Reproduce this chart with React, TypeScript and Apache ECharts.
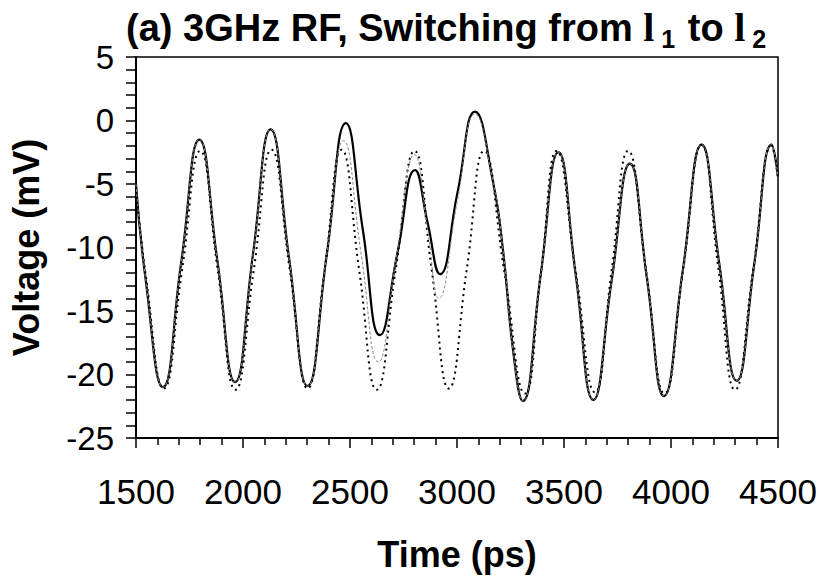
import React, { useEffect, useRef } from "react";
import * as echarts from "echarts";

// Measured trace (solid), time in ps, voltage in mV
const measured: [number, number][] = [
  [1500, -5.0], [1545, -12.5], [1626, -21.0], [1711, -11.2], [1796, -1.5],
  [1880, -11.0], [1963, -20.6], [2046, -10.6], [2129, -0.7], [2215, -10.8],
  [2302, -20.9], [2392, -10.5], [2481, -0.2], [2560, -8.6], [2640, -16.9],
  [2722, -10.4], [2804, -3.9], [2862, -8.0], [2921, -12.1], [3002, -5.7],
  [3084, 0.7], [3169, -4.9], [3215, -10.2], [3262, -18.1], [3307, -22.1],
  [3390, -12.3], [3474, -2.5], [3555, -12.2], [3637, -22.0], [3722, -12.7],
  [3808, -3.4], [3888, -12.5], [3967, -21.7], [4055, -11.8], [4143, -1.9],
  [4225, -11.2], [4307, -20.5], [4390, -11.2], [4470, -1.9], [4500, -4.4],
];

// Reference trace (dotted)
const reference: [number, number][] = [
  [1500, -5.3], [1548, -12.5], [1630, -21.1], [1715, -11.8], [1800, -2.4],
  [1882, -11.8], [1965, -21.2], [2050, -11.8], [2133, -2.3], [2218, -11.7],
  [2302, -21.1], [2382, -11.7], [2461, -2.3], [2543, -11.8], [2625, -21.2],
  [2713, -11.8], [2802, -2.4], [2882, -11.8], [2962, -21.1], [3045, -11.8],
  [3127, -2.4], [3222, -12.0], [3318, -21.5], [3392, -12.0], [3466, -2.4],
  [3555, -11.9], [3645, -21.4], [3722, -11.9], [3800, -2.4], [3885, -12.0],
  [3970, -21.5], [4057, -11.7], [4143, -1.9], [4221, -11.6], [4299, -21.2],
  [4385, -11.6], [4470, -2.0], [4500, -4.6],
];

// Thin grey trace
const grey: [number, number][] = [
  [1500, -5.0], [1545, -12.5], [1626, -21.0], [1711, -11.2], [1796, -1.5],
  [1880, -11.0], [1963, -20.6], [2046, -10.6], [2129, -0.7], [2215, -10.8],
  [2302, -20.9], [2392, -10.5], [2470, -1.6], [2552, -10.5], [2632, -19.0],
  [2716, -10.8], [2802, -2.7], [2862, -8.5], [2915, -14.0], [3000, -6.5],
  [3084, 0.5], [3169, -4.9], [3215, -10.2], [3262, -18.1], [3307, -22.1],
  [3390, -12.3], [3474, -2.5], [3555, -12.2], [3637, -22.0], [3722, -12.7],
  [3808, -3.4], [3888, -12.5], [3967, -21.7], [4055, -11.8], [4143, -1.9],
  [4225, -11.2], [4307, -20.5], [4390, -11.2], [4470, -1.9], [4500, -4.4],
];

const xMin = 1500, xMax = 4500, xStep = 500;
const yMin = -25, yMax = 5, yStep = 5;

const FONT = "'Liberation Sans', Arial, sans-serif";

export default function App() {
  const ref = useRef<HTMLDivElement>(null);
  useEffect(() => {
    if (!ref.current) return;
    const chart = echarts.init(ref.current, undefined, { renderer: "svg" });
    chart.setOption({
      animation: false,
      backgroundColor: "#fff",
      title: {
        text: "{a|(a) 3GHz RF, Switching from }{l|l}{s|1}{a| to }{l|l}{s|2}",
        left: 126,
        top: 4,
        padding: 0,
        textStyle: {
          rich: {
            a: { fontFamily: FONT, fontWeight: "bold", fontSize: 38, color: "#000" },
            l: { fontFamily: "'Liberation Serif', serif", fontWeight: "bold", fontSize: 40, color: "#000" },
            s: { fontFamily: FONT, fontWeight: "bold", fontSize: 25, color: "#000", padding: [22, 2, 0, 7] },
          },
        },
      },
      grid: {
        left: 136, right: 44, top: 57, bottom: 140,
        show: true, borderColor: "#000", borderWidth: 1.5,
      },
      xAxis: {
        type: "value", min: xMin, max: xMax, interval: xStep,
        name: "Time (ps)", nameLocation: "middle", nameGap: 98,
        nameTextStyle: { fontFamily: FONT, fontWeight: "bold", fontSize: 36, color: "#000" },
        axisLine: { show: true, onZero: false, lineStyle: { color: "#000", width: 2 } },
        axisTick: { show: true, inside: false, length: 10, lineStyle: { color: "#000", width: 1.5 } },
        minorTick: { show: true, splitNumber: 5, length: 7, lineStyle: { color: "#000", width: 1.5 } },
        axisLabel: {
          fontFamily: FONT, fontSize: 35, color: "#000", margin: 36,
          formatter: (v: number) => String(v),
        },
        splitLine: { show: false },
      },
      yAxis: {
        type: "value", min: yMin, max: yMax, interval: yStep,
        name: "Voltage (mV)", nameLocation: "middle", nameGap: 92,
        nameTextStyle: { fontFamily: FONT, fontWeight: "bold", fontSize: 36, color: "#000" },
        axisLine: { show: true, onZero: false, lineStyle: { color: "#000", width: 2 } },
        axisTick: { show: true, inside: false, length: 10, lineStyle: { color: "#000", width: 1.5 } },
        minorTick: { show: true, splitNumber: 5, length: 10, lineStyle: { color: "#000", width: 1.5 } },
        axisLabel: {
          fontFamily: FONT, fontSize: 33, color: "#000", margin: 22,
          formatter: (v: number) => String(v),
        },
        splitLine: { show: false },
      },
      series: [
        {
          type: "line", data: measured, smooth: 0.5, symbol: "none",
          lineStyle: { color: "#000", width: 2.2 }, z: 3,
        },
        {
          type: "line", data: reference, smooth: 0.5, symbol: "none",
          lineStyle: { color: "#000", width: 2, type: [2, 4] }, z: 2,
        },
        {
          type: "line", data: grey, smooth: 0.5, symbol: "none",
          lineStyle: { color: "#888", width: 1, type: [3, 2] }, z: 4,
        },
      ],
    });
    return () => chart.dispose();
  }, []);
  return (
    <div
      ref={ref}
      style={{ position: "absolute", left: 0, top: 0, width: 822, height: 578 }}
    />
  );
}
